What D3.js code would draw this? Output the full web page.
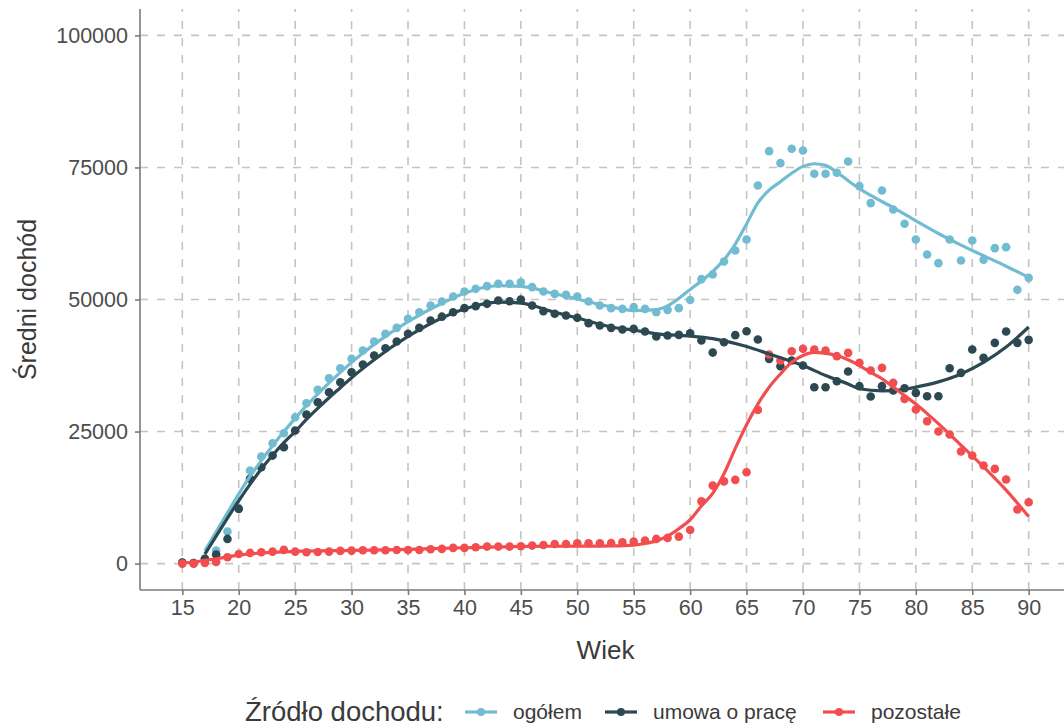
<!DOCTYPE html>
<html>
<head>
<meta charset="utf-8">
<script src="https://cdnjs.cloudflare.com/ajax/libs/d3/7.8.5/d3.min.js"></script>
<style>
  body { margin: 0; background: #fff; }
  svg { display: block; font-family: "Liberation Sans", Arial, sans-serif; }
</style>
</head>
<body>
<script>
// age categories
var ages = [15,16,17,18,19,20,21,22,23,24,25,26,27,28,29,30,31,32,33,34,35,36,37,38,39,40,
  41,42,43,44,45,46,47,48,49,50,51,52,53,54,55,56,57,58,59,60,61,62,63,64,65,66,67,68,69,70,
  71,72,73,74,75,76,77,78,79,80,81,82,83,84,85,86,87,88,89,90];

// mean income by age (points)
var ogolem = [200,100,900,2460,6060,10500,17610,20260,22790,24680,27710,30360,32890,35100,36990,38760,
  40340,42050,43500,44630,46340,47600,48860,49620,50570,51520,52020,52530,52970,52970,53280,52340,
  51520,51070,50880,50570,49620,48860,48360,48230,48550,48230,47600,48040,48360,49900,53850,54730,
  57200,59280,61360,71590,78090,75820,78530,78220,73800,73800,73990,76140,71470,68250,70640,67050,
  64330,61360,58520,56880,61360,57390,61170,57510,59720,59910,51830,54100];
var umowa = [200,100,890,1700,4670,10350,16040,18250,20450,22030,25190,28220,30550,32450,34340,36240,
  37690,39390,40780,42050,43500,44630,46020,46750,47600,48360,48740,49180,49810,49680,50000,48860,
  47790,47290,46970,46530,45520,45080,44630,44320,44440,43940,42990,43180,43300,43620,42230,39950,
  41920,43250,44000,42420,38760,37370,38450,37500,33400,33400,34530,36360,33590,31630,33590,32770,
  33210,32320,31690,31690,36990,36110,40530,38950,41790,43940,41790,42360];
var pozostale = [0,0,100,300,1200,1830,2020,2150,2270,2590,2270,2150,2200,2270,2400,2460,
  2520,2520,2520,2580,2580,2580,2710,2780,2970,2970,3090,3220,3220,3220,3280,3410,
  3530,3720,3720,3850,3850,3850,3910,4040,4170,4360,4670,4860,5110,6370,11800,14770,
  15560,15850,17300,29100,39580,38450,40210,40660,40530,40340,39270,39900,38010,36550,37060,34220,
  31190,29170,26960,25000,24430,21210,20450,18560,17930,15910,10230,11620];

// smoothed trend lines: [age, value]
var ogolemSmooth = [[17,2400],[18,6000],[19,9600],[20,13200],[21,16500],[22,19500],[23,22300],[24,25000],
  [25,27500],[26,29900],[27,32100],[28,34200],[29,36200],[30,38100],[32,41500],[35,45800],[38,49300],
  [40,51200],[43,52600],[45,52500],[48,51100],[50,50100],[53,48600],[55,47900],[57,48100],[58,48800],
  [60,51900],[62,55300],[63,57500],[64,60500],[65,64300],[66,68300],[67,70700],[68,72300],[69,73900],
  [70,75200],[71,75700],[72,75400],[73,74100],[74,72500],[75,71000],[76,69700],[78,67400],[80,64900],
  [82,62500],[84,60300],[86,58300],[88,56300],[90,54200]];
var umowaSmooth = [[17,1800],[18,5200],[19,8600],[20,11900],[21,15000],[22,17900],[23,20500],[24,22900],
  [25,25000],[26,27300],[27,29400],[28,31400],[29,33300],[30,35200],[32,38600],[35,43000],[38,46500],
  [40,48200],[43,49500],[45,49300],[48,47600],[50,46500],[53,44800],[55,44200],[57,43500],[60,43100],
  [62,42600],[65,41100],[67,39700],[70,37500],[72,35600],[74,34000],[75,33100],[77,32700],[79,33000],
  [80,33400],[82,34400],[84,35900],[86,38100],[88,41000],[90,44800]];
var pozostaleSmooth = [[15,100],[16,300],[17,600],[18,900],[20,1600],[22,2000],[25,2300],[30,2500],
  [35,2700],[40,3000],[45,3250],[50,3300],[53,3350],[55,3500],[56,3800],[57,4300],[58,5200],[59,6600],
  [60,8300],[61,10900],[62,13300],[63,17000],[64,21800],[65,26300],[66,30200],[67,33400],[68,35900],
  [69,38100],[70,39400],[71,40000],[72,39800],[73,39400],[74,38600],[75,37500],[76,36200],[77,35000],
  [78,33400],[79,31800],[80,30200],[81,28400],[82,26500],[84,22400],[86,18300],[88,13900],[90,8900]];

var seriesNames = ["ogółem", "umowa o pracę", "pozostałe"];
var colors = ["#72bcd2", "#2c4850", "#f24e50"];
var xTicks = [15,20,25,30,35,40,45,50,55,60,65,70,75,80,85,90];
var yTicks = [0,25000,50000,75000,100000];

var W = 1064, H = 727;
var mLeft = 140, mRight = 1071, mTop = 9, mBottom = 590;

var svg = d3.select("body").append("svg")
  .attr("width", W)
  .attr("height", H);

// 5% expansion like ggplot
var x = d3.scaleLinear().domain([11.25, 93.75]).range([mLeft, mRight]);
var y = d3.scaleLinear().domain([-5000, 105000]).range([mBottom, mTop]);

// grid
svg.append("g").selectAll("line").data(yTicks).enter().append("line")
  .attr("x1", mLeft).attr("x2", mRight)
  .attr("y1", function(d){ return y(d); }).attr("y2", function(d){ return y(d); })
  .attr("stroke", "#c4c4c4").attr("stroke-width", 1.6).attr("stroke-dasharray", "8,9");
svg.append("g").selectAll("line").data(xTicks).enter().append("line")
  .attr("y1", mBottom).attr("y2", mTop)
  .attr("x1", function(d){ return x(d); }).attr("x2", function(d){ return x(d); })
  .attr("stroke", "#c4c4c4").attr("stroke-width", 1.6).attr("stroke-dasharray", "8,9");

// axes
var xAxis = svg.append("g").attr("transform", "translate(0," + mBottom + ")")
  .call(d3.axisBottom(x).tickValues(xTicks).tickSize(5).tickPadding(5));
var yAxis = svg.append("g").attr("transform", "translate(" + mLeft + ",0)")
  .call(d3.axisLeft(y).tickValues(yTicks).tickSize(5).tickPadding(7).tickFormat(d3.format("d")));
[xAxis, yAxis].forEach(function(a){
  a.select(".domain").attr("stroke", "#7a7a7a").attr("stroke-width", 1.6);
  a.selectAll(".tick line").attr("stroke", "#7a7a7a").attr("stroke-width", 1.6);
  a.selectAll(".tick text").attr("fill", "#4d4d4d").style("font-size", "21.5px");
});
xAxis.select(".domain").attr("d", "M" + mLeft + ",0H" + mRight);
yAxis.select(".domain").attr("d", "M0," + mTop + "V" + mBottom);

// points
var allSeries = [ogolem, umowa, pozostale];
allSeries.forEach(function(vals, i){
  svg.append("g").selectAll("circle").data(vals).enter().append("circle")
    .attr("cx", function(d, j){ return x(ages[j]); })
    .attr("cy", function(d){ return y(d); })
    .attr("r", 4.3)
    .attr("fill", colors[i]);
});

// smooth lines
var line = d3.line()
  .x(function(d){ return x(d[0]); })
  .y(function(d){ return y(d[1]); })
  .curve(d3.curveMonotoneX);
[ogolemSmooth, umowaSmooth, pozostaleSmooth].forEach(function(s, i){
  svg.append("path").datum(s)
    .attr("d", line)
    .attr("fill", "none")
    .attr("stroke", colors[i])
    .attr("stroke-width", 3.2)
    .attr("stroke-linecap", "butt");
});

// axis titles
svg.append("text")
  .attr("x", (mLeft + mRight) / 2).attr("y", 659)
  .attr("text-anchor", "middle")
  .attr("fill", "#3a3a3a")
  .style("font-size", "26px")
  .text("Wiek");
svg.append("text")
  .attr("transform", "translate(36," + ((mTop + mBottom) / 2) + ") rotate(-90)")
  .attr("text-anchor", "middle")
  .attr("fill", "#3a3a3a")
  .style("font-size", "25px")
  .text("Średni dochód");

// legend
var legY = 712;
svg.append("text")
  .attr("x", 245).attr("y", legY + 9)
  .attr("fill", "#3a3a3a")
  .style("font-size", "27.5px")
  .text("Źródło dochodu:");
var keyX = [465, 605, 823];
seriesNames.forEach(function(name, i){
  var g = svg.append("g").attr("transform", "translate(" + keyX[i] + "," + legY + ")");
  g.append("line").attr("x1", 0).attr("x2", 32).attr("y1", 0).attr("y2", 0)
    .attr("stroke", colors[i]).attr("stroke-width", 3.2);
  g.append("circle").attr("cx", 16).attr("cy", 0).attr("r", 4).attr("fill", colors[i]);
  g.append("text").attr("x", 48).attr("y", 7)
    .attr("fill", "#3a3a3a")
    .style("font-size", "21px")
    .text(name);
});
</script>
</body>
</html>
